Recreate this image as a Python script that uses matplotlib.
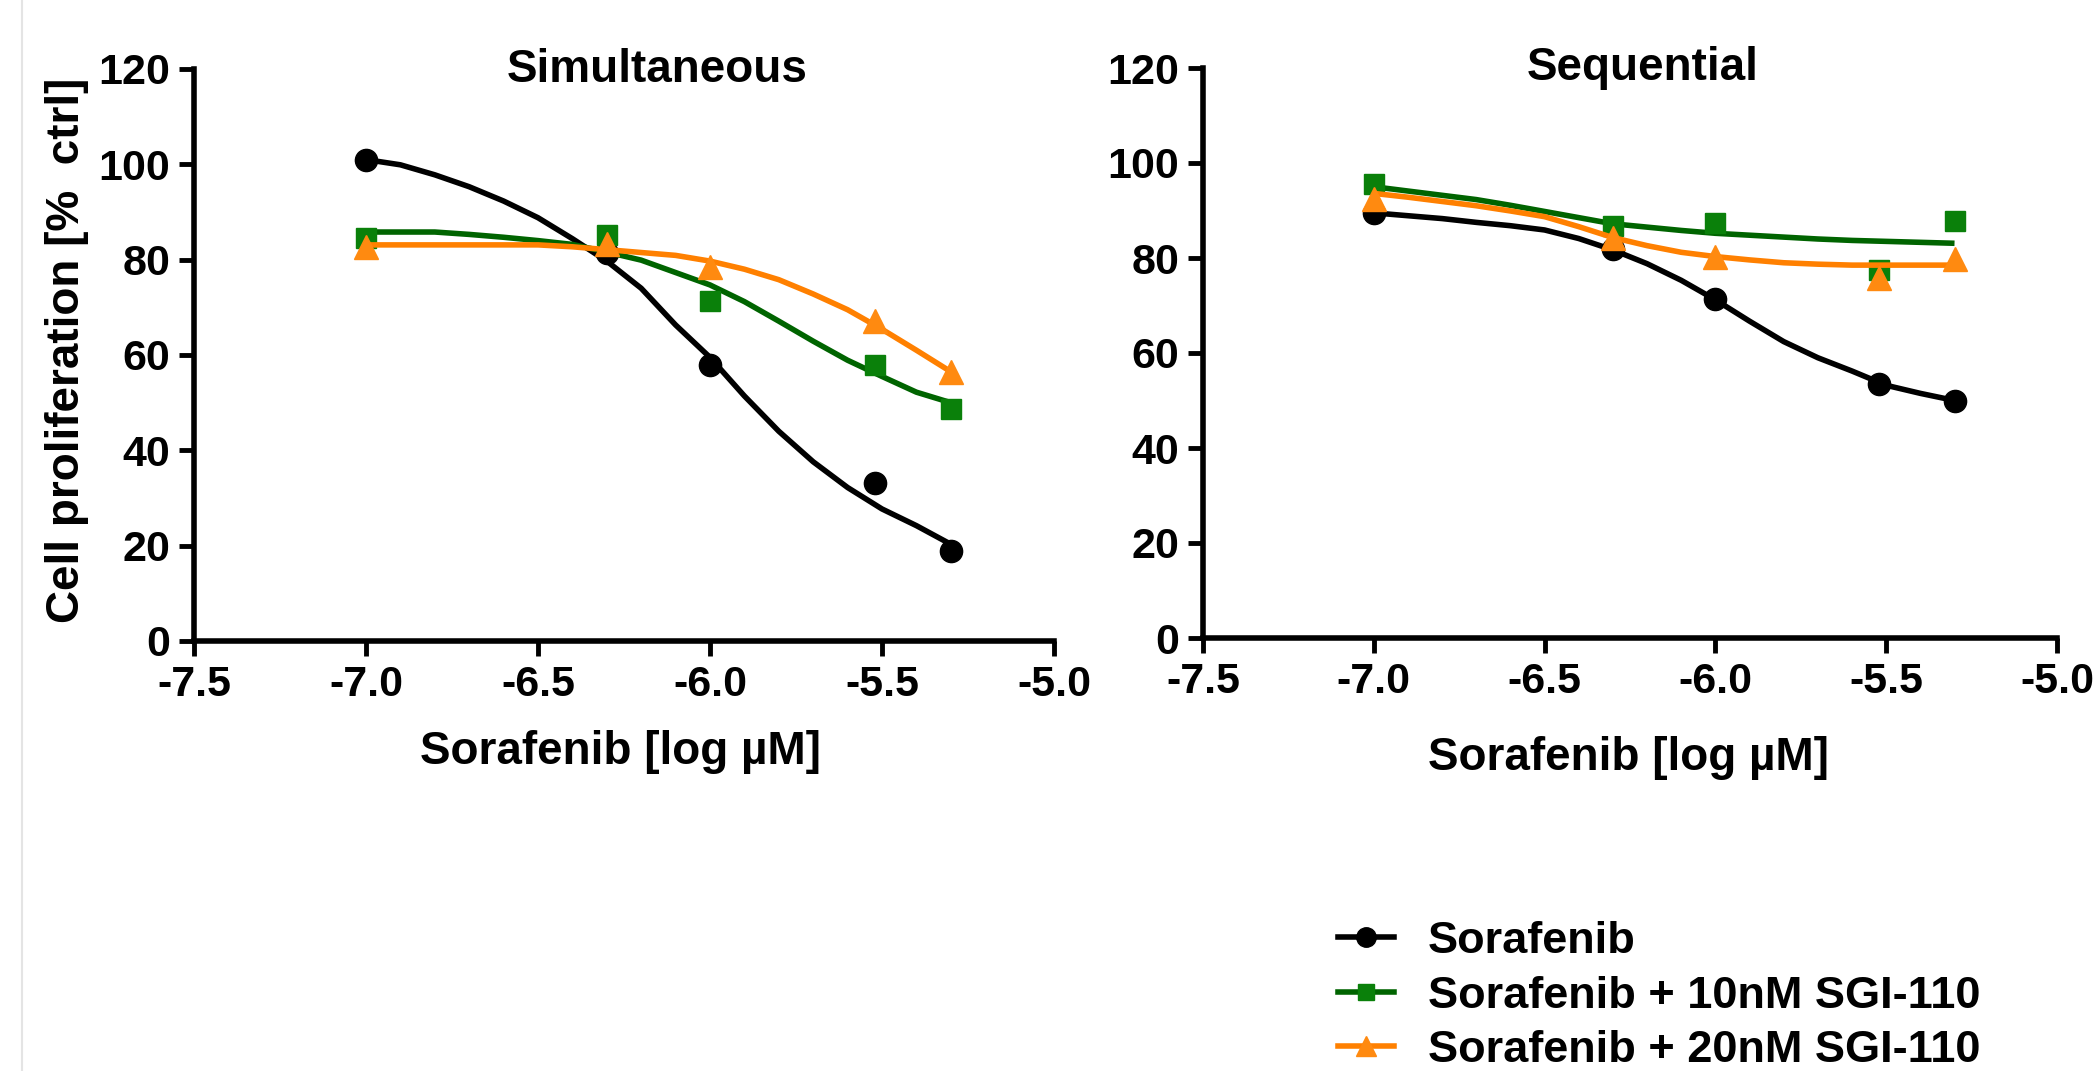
import matplotlib
matplotlib.use('Agg')
import matplotlib.pyplot as plt
from matplotlib.lines import Line2D

# dose points (log M) and measured values
doses = [-7.0, -6.30, -6.0, -5.52, -5.30]

sim_sora = [101.0, 81.5, 57.8, 33.2, 18.8]
sim_sgi10 = [84.5, 85.2, 71.3, 57.8, 48.7]
sim_sgi20 = [82.6, 83.2, 78.4, 67.2, 56.5]

seq_sora = [89.4, 81.8, 71.3, 53.5, 49.8]
seq_sgi10 = [95.6, 86.8, 87.4, 77.4, 87.8]
seq_sgi20 = [92.5, 84.3, 80.2, 75.8, 79.8]

# fitted curves
curve_x = [-7.0, -6.9, -6.8, -6.7, -6.6, -6.5, -6.4, -6.3, -6.2, -6.1,
           -6.0, -5.9, -5.8, -5.7, -5.6, -5.5, -5.4, -5.3]

sim_sora_fit = [101.0, 99.9, 97.8, 95.3, 92.3, 88.8, 84.4, 79.7, 74.0, 66.3,
                59.5, 51.4, 44.0, 37.6, 32.2, 27.7, 24.2, 20.3]
sim_sgi10_fit = [85.8, 85.8, 85.8, 85.3, 84.7, 84.0, 83.2, 81.6, 79.9, 77.3,
                 74.7, 71.2, 67.1, 62.9, 58.9, 55.5, 52.2, 50.0]
sim_sgi20_fit = [83.1, 83.1, 83.1, 83.1, 83.1, 83.1, 82.7, 82.1, 81.5, 80.9,
                 79.7, 78.0, 75.8, 72.8, 69.5, 65.4, 61.0, 56.5]

seq_sora_fit = [89.5, 88.9, 88.3, 87.5, 86.8, 85.9, 84.1, 81.7, 78.8, 75.3,
                71.2, 66.7, 62.4, 59.0, 56.2, 53.2, 51.5, 50.0]
seq_sgi10_fit = [95.0, 94.1, 93.2, 92.3, 91.1, 89.8, 88.5, 87.2, 86.5, 85.8,
                 85.2, 84.8, 84.4, 84.0, 83.7, 83.5, 83.3, 83.1]
seq_sgi20_fit = [93.6, 92.8, 91.9, 91.0, 89.9, 88.7, 86.6, 84.3, 82.6, 81.2,
                 80.3, 79.6, 79.0, 78.7, 78.5, 78.5, 78.5, 78.5]

labels = ['Sorafenib', 'Sorafenib + 10nM SGI-110', 'Sorafenib + 20nM SGI-110']
xticks = [-7.5, -7.0, -6.5, -6.0, -5.5, -5.0]
yticks = [0, 20, 40, 60, 80, 100, 120]

# line colour, marker colour, marker, size
styles = [('black', 'black', 'o', 16),
          ('#006400', '#0a800a', 's', 14),
          ('#ff8000', '#ff8a10', '^', 17)]

sans = ['Liberation Sans', 'DejaVu Sans']
narrow = ['Liberation Sans Narrow', 'Liberation Sans', 'DejaVu Sans']

fig = plt.figure(figsize=(20.95, 10.71), dpi=100)
W, H = 2095.0, 1071.0
ax1 = fig.add_axes([194 / W, 1 - 641 / H, 860 / W, 572 / H])
ax2 = fig.add_axes([1203 / W, 1 - 638 / H, 854 / W, 570 / H])


def panel(ax, pts, fits):
    handles = []
    for y, yf, (lc, mc, mk, ms) in zip(pts, fits, styles):
        ax.plot(curve_x, yf, color=lc, lw=4, solid_capstyle='butt',
                solid_joinstyle='round', clip_on=False)
        ax.plot(doses, y, ls='none', marker=mk, ms=ms, mfc=mc, mec=mc, clip_on=False)
        handles.append(Line2D([], [], color=lc, lw=4, marker=mk, ms=ms - 2,
                              mfc=mc, mec=mc))
    ax.set_xlim(-7.5, -5.0)
    ax.set_ylim(0, 120)
    ax.set_xticks(xticks)
    ax.set_xticklabels(['%.1f' % t for t in xticks])
    ax.set_yticks(yticks)
    for s in ['top', 'right']:
        ax.spines[s].set_visible(False)
    for s in ['left', 'bottom']:
        ax.spines[s].set_linewidth(4)
    ax.tick_params(direction='out', length=11, width=3.5, pad=6)
    for t in ax.get_xticklabels() + ax.get_yticklabels():
        t.set_family(narrow)
        t.set_fontweight('bold')
        t.set_fontsize(31)
    return handles


handles = panel(ax1, [sim_sora, sim_sgi10, sim_sgi20],
                [sim_sora_fit, sim_sgi10_fit, sim_sgi20_fit])
panel(ax2, [seq_sora, seq_sgi10, seq_sgi20],
      [seq_sora_fit, seq_sgi10_fit, seq_sgi20_fit])

fig.text(657 / W, 1 - 70 / H, 'Simultaneous', family=sans, weight='bold',
         fontsize=33, ha='center', va='center')
fig.text(1643 / W, 1 - 68 / H, 'Sequential', family=sans, weight='bold',
         fontsize=33, ha='center', va='center')

fig.text(620 / W, 1 - 752 / H, 'Sorafenib [log \u00b5M]', family=sans,
         weight='bold', fontsize=33, ha='center', va='center')
fig.text(1629 / W, 1 - 758 / H, 'Sorafenib [log \u00b5M]', family=sans,
         weight='bold', fontsize=33, ha='center', va='center')

fig.text(67 / W, 1 - 350 / H, 'Cell proliferation [%  ctrl]', family=sans,
         weight='bold', fontsize=33, rotation=90, ha='center', va='center')

fig.legend(handles, labels, loc='center left',
           bbox_to_anchor=(1338 / W, 1 - 996 / H), frameon=False,
           prop={'family': sans, 'weight': 'bold', 'size': 32.5},
           handlelength=1.24, handletextpad=0.75, labelspacing=0.3,
           borderpad=0, borderaxespad=0)

# thin page edge on the left
fig.add_artist(Line2D([22 / W, 22 / W], [0, 1], color='#e4e4e4', lw=1.5))

fig.savefig('out.png', dpi=100, facecolor='white')
